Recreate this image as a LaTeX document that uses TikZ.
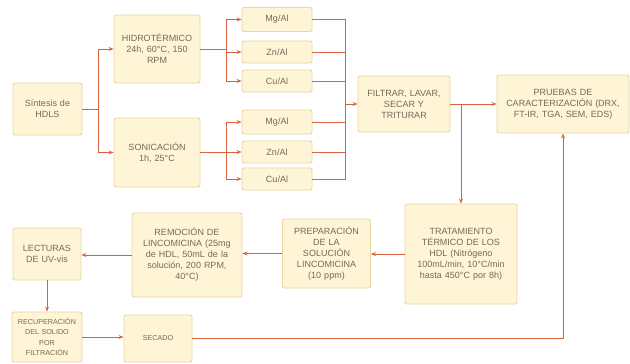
\documentclass[tikz,border=0pt]{standalone}
\usepackage{fontspec}
\setmainfont{Liberation Sans}
\usetikzlibrary{arrows.meta}
\definecolor{boxfill}{HTML}{FEF5D6}
\definecolor{boxline}{HTML}{EAD5A4}
\definecolor{linecol}{HTML}{D9623E}
\definecolor{txt}{HTML}{786858}
\tikzset{
  box/.style={draw=boxline, fill=boxfill, line width=0.9pt, rounded corners=2pt,
    align=center, text=txt, inner sep=2pt,
    font=\fontsize{9}{11}\selectfont},
  smallbox/.style={box, font=\fontsize{7.2}{10.4}\selectfont},
  conn/.style={draw=linecol, line width=0.9pt},
  arr/.style={conn, -{Stealth[length=5pt,width=4pt]}},
}
\begin{document}
\begin{tikzpicture}[x=1pt,y=-1pt]
\useasboundingbox (0,0) rectangle (630,364);
\node[box, minimum width=69pt, minimum height=52pt, text width=64pt] (sint) at (47.5,109) {Síntesis de\\HDLS};
\node[box, minimum width=86pt, minimum height=68pt, text width=82pt] (hidro) at (157,49) {HIDROTÉRMICO\\24h, 60°C, 150\\RPM};
\node[box, minimum width=86pt, minimum height=69pt, text width=82pt] (soni) at (157,152.5) {SONICACIÓN\\1h, 25°C};
\node[box, minimum width=70pt, minimum height=24pt] (mg1) at (277,19.5) {Mg/Al};
\node[box, minimum width=70pt, minimum height=22pt] (zn1) at (277,52) {Zn/Al};
\node[box, minimum width=70pt, minimum height=22pt] (cu1) at (277,81) {Cu/Al};
\node[box, minimum width=70pt, minimum height=24pt] (mg2) at (277,122) {Mg/Al};
\node[box, minimum width=70pt, minimum height=22pt] (zn2) at (277,152) {Zn/Al};
\node[box, minimum width=70pt, minimum height=22pt] (cu2) at (277,179) {Cu/Al};
\node[box, minimum width=92pt, minimum height=56pt, text width=88pt] (fil) at (404,104) {FILTRAR, LAVAR,\\SECAR Y\\TRITURAR};
\node[box, minimum width=130pt, minimum height=58pt, text width=128pt] (pru) at (563,104) {PRUEBAS DE\\CARACTERIZACIÓN (DRX,\\FT-IR, TGA, SEM, EDS)};
\node[box, minimum width=112pt, minimum height=100pt, text width=108pt] (trat) at (461,254) {TRATAMIENTO\\TÉRMICO DE LOS\\HDL (Nitrógeno\\100mL/min, 10°C/min\\hasta 450°C por 8h)};
\node[box, minimum width=87pt, minimum height=69pt, text width=84pt] (prep) at (326.5,253.5) {PREPARACIÓN\\DE LA\\SOLUCIÓN\\LINCOMICINA\\(10 ppm)};
\node[box, minimum width=110pt, minimum height=84pt, text width=106pt] (rem) at (187,255) {REMOCIÓN DE\\LINCOMICINA (25mg\\de HDL, 50mL de la\\solución, 200 RPM,\\40°C)};
\node[box, minimum width=68pt, minimum height=52pt, text width=64pt] (lec) at (47,254) {LECTURAS\\DE UV-vis};
\node[smallbox, minimum width=68pt, minimum height=50pt, text width=66pt] (rec) at (47,337) {RECUPERACIÓN\\DEL SOLIDO\\POR\\FILTRACIÓN};
\node[smallbox, minimum width=68pt, minimum height=47pt, text width=64pt] (sec) at (158,338.5) {SECADO};
% connectors
\draw[arr] (sint.east) -- ++(16,0) |- (hidro.west);
\draw[arr] (sint.east) -- ++(16,0) |- (soni.west);
\foreach \t in {mg1,zn1,cu1} \draw[arr] (hidro.east) -- ++(26,0) |- (\t.west);
\foreach \t in {mg2,zn2,cu2} \draw[arr] (soni.east) -- ++(26,0) |- (\t.west);
\coordinate (col) at (345,104);
\foreach \t in {mg1,zn1,cu1,mg2,zn2,cu2} \draw[conn] (\t.east) -| (col);
\draw[arr] (col) -- (fil.west);
\draw[arr] (fil.east) -- (pru.west);
\draw[arr] (fil.east -| trat.north) -- (trat.north);
\draw[arr] (trat.west) -- (trat.west -| prep.east);
\draw[arr] (prep.west) -- (prep.west -| rem.east);
\draw[arr] (rem.west) -- (rem.west -| lec.east);
\draw[arr] (lec.south) -- (rec.north);
\draw[arr] (rec.east) -- (rec.east -| sec.west);
\draw[arr] (sec.east) -| (pru.south);
\end{tikzpicture}
\end{document}
